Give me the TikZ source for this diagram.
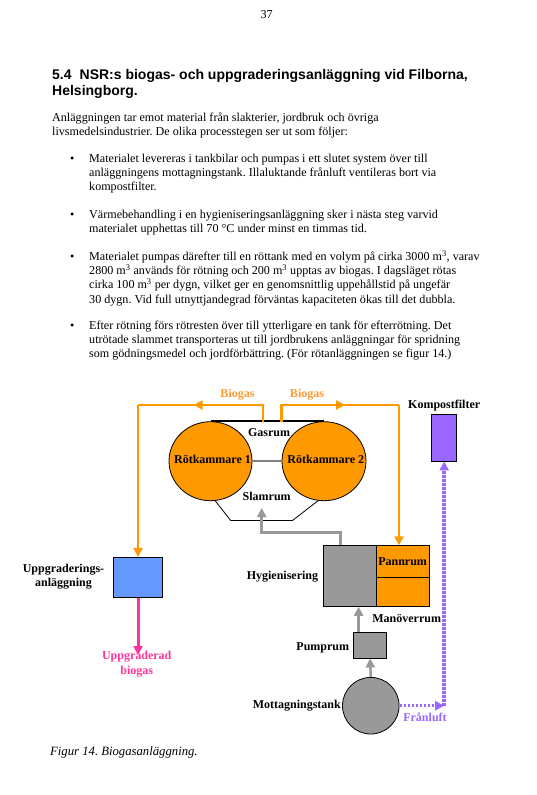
\documentclass[tikz,border=0pt]{standalone}
\usepackage{fontspec}
\setmainfont{Liberation Serif}
\newfontfamily\headfont{Liberation Sans}
\usetikzlibrary{arrows.meta,shapes.geometric,decorations.markings}
\definecolor{orng}{HTML}{FF9900}
\definecolor{orngtxt}{HTML}{FF9933}
\definecolor{grayc}{HTML}{999999}
\definecolor{darkg}{HTML}{7F7F7F}
\definecolor{bluec}{HTML}{6699FF}
\definecolor{purp}{HTML}{9966FF}
\definecolor{pinkc}{HTML}{FF3399}
\frenchspacing
\newcommand{\toplines}[1]{\begin{tabular}[t]{@{}l@{}}#1\end{tabular}}
\begin{document}
\begin{tikzpicture}[x=1pt,y=-1pt,
  body/.style={font=\fontsize{12.1}{14.2}\selectfont, inner sep=0pt, anchor=base west},
  lbl/.style={font=\fontsize{12}{14}\selectfont\bfseries, inner sep=0pt},
  tipa/.style={-{Triangle[length=9pt,width=9pt]}},
  oline/.style={draw=orng, line width=2.5pt},
  gline/.style={draw=grayc, line width=2.5pt},
  pline/.style={draw=purp, line width=3.5pt, dash pattern=on 2.5pt off 1.5pt},
  shp/.style={draw=black, line width=0.8pt, inner sep=0pt},
  midtip/.style={postaction={decorate}, decoration={markings, mark=at position #1 with {\arrow{Triangle[length=9pt,width=9pt]}}}}
]
\fill[white] (0,0) rectangle (536,795);
\path[use as bounding box] (0,0) rectangle (536,795);

% page number and heading
\node[body, anchor=base] (pnum) at (266.7,19) {37};
\node[inner sep=0pt, anchor=base west, font=\headfont\bfseries\fontsize{14}{16.5}\selectfont] (head) at (52,79)
  {\toplines{5.4\hspace{8pt}NSR:s biogas- och uppgraderingsanläggning vid Filborna,\\Helsingborg.}};

% body text
\node[body] (p1) at (52,121.5) {\toplines{Anläggningen tar emot material från slakterier, jordbruk och övriga\\livsmedelsindustrier. De olika processtegen ser ut som följer:}};
\node[body] (b1) at (70,162.3) {•};
\node[body] (t1) at (89,162.3) {\toplines{Materialet levereras i tankbilar och pumpas i ett slutet system över till\\anläggningens mottagningstank. Illaluktande frånluft ventileras bort via\\kompostfilter.}};
\node[body] (b2) at (70,218) {•};
\node[body] (t2) at (89,218) {\toplines{Värmebehandling i en hygieniseringsanläggning sker i nästa steg varvid\\materialet upphettas till 70 °C under minst en timmas tid.}};
\node[body] (b3) at (70,260.5) {•};
\node[body] (t3) at (89,260.5) {\toplines{Materialet pumpas därefter till en röttank med en volym på cirka 3000 m\textsuperscript{3}, varav\\2800 m\textsuperscript{3} används för rötning och 200 m\textsuperscript{3} upptas av biogas. I dagsläget rötas\\cirka 100 m\textsuperscript{3} per dygn, vilket ger en genomsnittlig uppehållstid på ungefär\\30 dygn. Vid full utnyttjandegrad förväntas kapaciteten ökas till det dubbla.}};
\node[body] (b4) at (70,329.5) {•};
\node[body] (t4) at (89,329.5) {\toplines{Efter rötning förs rötresten över till ytterligare en tank för efterrötning. Det\\utrötade slammet transporteras ut till jordbrukens anläggningar för spridning\\som gödningsmedel och jordförbättring. (För rötanläggningen se figur 14.)}};

% digester
\draw[line width=0.8pt] (215,500.5) -- (230.7,520.5) -- (292.5,520.5) -- (318.3,500.5);
\node[shp, ellipse, fill=orng, minimum width=83, minimum height=79] (rk1) at (210.5,461.2) {};
\node[shp, ellipse, fill=orng, minimum width=84, minimum height=79] (rk2) at (324,461.2) {};
\draw[draw=darkg, line width=2pt] (rk1.east) -- (rk2.west);
\draw[line width=2.2pt] (rk1.north) -- (rk2.north);
\node[lbl] (rk1t) at (212.5,459.3) {Rötkammare 1};
\node[lbl] (rk2t) at (325.8,459.3) {Rötkammare 2};
\node[lbl] (gas) at (269,432.7) {Gasrum};
\node[lbl] (slam) at (266.7,496) {Slamrum};

% biogas lines
\coordinate (gl) at (263,421.7);
\coordinate (gr) at (281.7,421.7);
\coordinate (tl) at (138,405);
\coordinate (tr) at (399,405);

% upgrading
\node[shp, fill=bluec, minimum width=48.6, minimum height=40] (upg) at (138,577.3) {};
\node[lbl, align=center] (upgt) at (63.5,576.3) {Uppgraderings-\\anläggning};
\node[lbl, align=center, text=pinkc, font=\fontsize{12}{15}\selectfont\bfseries] (upgb) at (136.7,664.2) {Uppgraderad\\biogas};
\coordinate (upgtip) at (138,655);

% hygienisering
\node[shp, fill=grayc, minimum width=53, minimum height=60.7, anchor=north west] (hyg) at (322.7,545.3) {};
\node[shp, fill=orng, minimum width=53, minimum height=31.4, anchor=north west, font=\fontsize{12}{14}\selectfont\bfseries] (pann) at (375.7,545.3) {Pannrum};
\node[shp, fill=orng, minimum width=53, minimum height=29.3, anchor=north west] (man) at (375.7,576.7) {};
\node[lbl, anchor=east] (hygt) at (318.3,576.7) {Hygienisering};
\node[lbl] (mant) at (406.7,618.3) {Manöverrum};

% pump and tank
\node[shp, fill=grayc, minimum width=32.6, minimum height=25.7] (pump) at (370,645.2) {};
\node[lbl, anchor=east] (pumpt) at (349.3,647.7) {Pumprum};
\node[shp, circle, fill=grayc, minimum size=56.6] (tank) at (370.8,705.7) {};
\node[lbl, anchor=east] (tankt) at (341,705.3) {Mottagningstank};

% kompostfilter
\node[shp, fill=purp, minimum width=25, minimum height=46.7] (komp) at (444.2,437.7) {};
\node[lbl] (kompt) at (444.2,406) {Kompostfilter};
\coordinate (corner) at (komp.south |- tank.east);
\node[lbl, text=purp] (fran) at (425,717.7) {Frånluft};

% biogas labels
\node[lbl, text=orngtxt] (bgl) at (237.5,395) {Biogas};
\node[lbl, text=orngtxt] (bgr) at (307,395) {Biogas};

% connectors
\draw[oline, midtip=86pt] (gl) |- (tl);
\draw[oline, tipa] (tl) -- (upg.north);
\draw[oline, midtip=80pt] (gr) |- (tr);
\draw[oline, tipa] (tr) -- (tr |- pann.north);
\draw[draw=pinkc, line width=3pt, tipa] (upg.south) -- (upgtip);
\coordinate (hygout) at ([xshift=18pt]hyg.north west);
\coordinate (slamin) at (261.7,508);
\draw[gline, tipa] (hygout) -- ++(0,-12.6) -| (slamin);
\coordinate (pumpout) at ([xshift=5.3pt]pump.north west);
\draw[gline, tipa] (pumpout) -- (pumpout |- hyg.south);
\draw[gline, tipa] (tank.north) -- (pump.south);
\draw[pline, tipa] (tank.east) -- (corner);
\draw[pline, tipa] (corner) -- (komp.south);

% caption
\node[body, font=\fontsize{12.7}{14}\selectfont\itshape] (cap) at (50,755.5) {Figur 14. Biogasanläggning.};
\end{tikzpicture}
\end{document}
